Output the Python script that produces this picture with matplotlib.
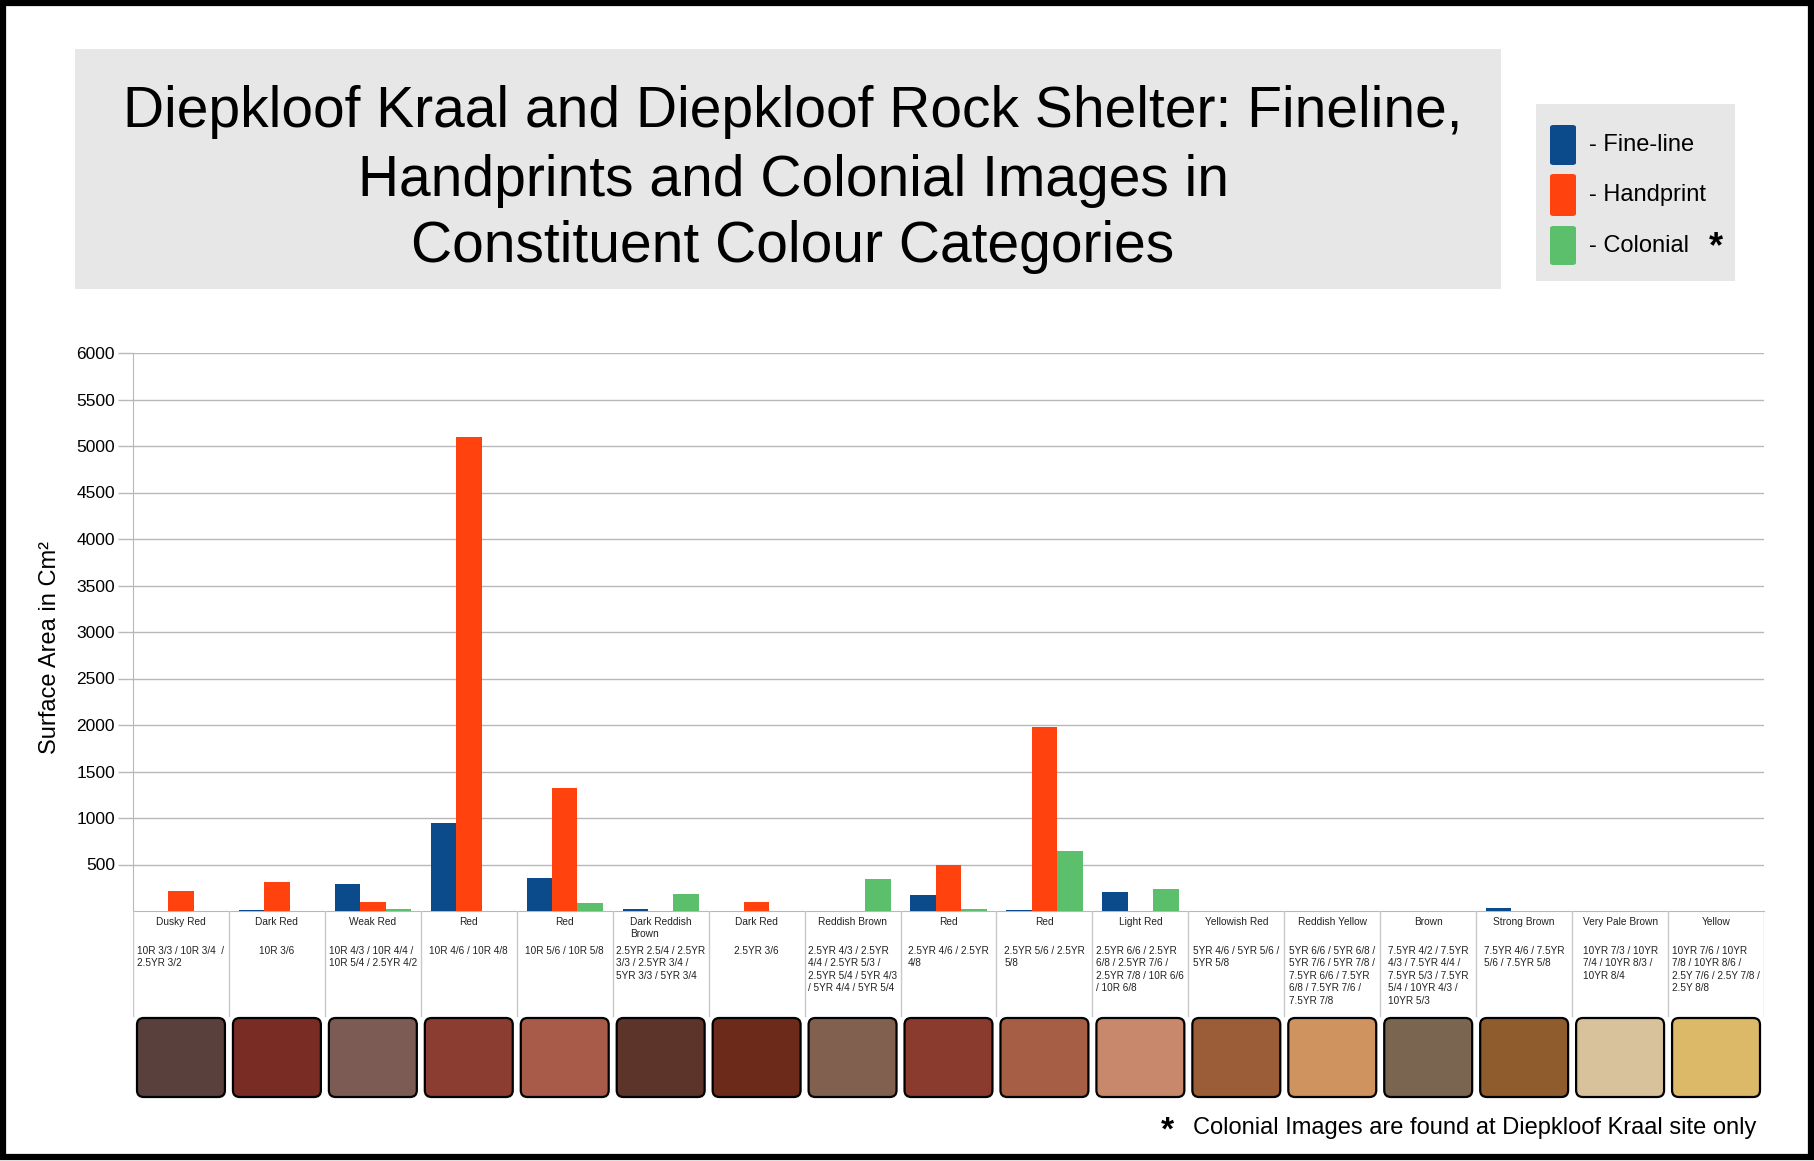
import matplotlib.pyplot as plt
import numpy as np
from matplotlib.patches import Rectangle, FancyBboxPatch

plt.rcParams["font.family"] = ["Liberation Sans", "DejaVu Sans"]

W, H, DPI = 1814, 1161, 100

# --- data ---
categories = [
    "Dusky Red", "Dark Red", "Weak Red", "Red", "Red", "Dark Reddish\nBrown",
    "Dark Red", "Reddish Brown", "Red", "Red", "Light Red", "Yellowish Red",
    "Reddish Yellow", "Brown", "Strong Brown", "Very Pale Brown", "Yellow",
]
munsell_codes = [
    "10R 3/3 / 10R 3/4  /\n2.5YR 3/2",
    "10R 3/6",
    "10R 4/3 / 10R 4/4 /\n10R 5/4 / 2.5YR 4/2",
    "10R 4/6 / 10R 4/8",
    "10R 5/6 / 10R 5/8",
    "2.5YR 2.5/4 / 2.5YR\n3/3 / 2.5YR 3/4 /\n5YR 3/3 / 5YR 3/4",
    "2.5YR 3/6",
    "2.5YR 4/3 / 2.5YR\n4/4 / 2.5YR 5/3 /\n2.5YR 5/4 / 5YR 4/3\n/ 5YR 4/4 / 5YR 5/4",
    "2.5YR 4/6 / 2.5YR\n4/8",
    "2.5YR 5/6 / 2.5YR\n5/8",
    "2.5YR 6/6 / 2.5YR\n6/8 / 2.5YR 7/6 /\n2.5YR 7/8 / 10R 6/6\n/ 10R 6/8",
    "5YR 4/6 / 5YR 5/6 /\n5YR 5/8",
    "5YR 6/6 / 5YR 6/8 /\n5YR 7/6 / 5YR 7/8 /\n7.5YR 6/6 / 7.5YR\n6/8 / 7.5YR 7/6 /\n7.5YR 7/8",
    "7.5YR 4/2 / 7.5YR\n4/3 / 7.5YR 4/4 /\n7.5YR 5/3 / 7.5YR\n5/4 / 10YR 4/3 /\n10YR 5/3",
    "7.5YR 4/6 / 7.5YR\n5/6 / 7.5YR 5/8",
    "10YR 7/3 / 10YR\n7/4 / 10YR 8/3 /\n10YR 8/4",
    "10YR 7/6 / 10YR\n7/8 / 10YR 8/6 /\n2.5Y 7/6 / 2.5Y 7/8 /\n2.5Y 8/8",
]
fine_line = [0, 10, 290, 950, 360, 20, 0, 0, 175, 15, 205, 0, 0, 0, 30, 0, 0]
handprint = [210, 310, 95, 5100, 1320, 0, 100, 0, 500, 1980, 0, 0, 0, 0, 0, 0, 0]
colonial = [0, 0, 25, 0, 85, 180, 0, 340, 20, 645, 240, 0, 0, 0, 0, 0, 0]
swatch_colors = [
    "#5a403c", "#782c24", "#7c5b55", "#8b3d31", "#a85b48", "#5c3429",
    "#6c2a1b", "#81604f", "#8a3b2e", "#a65e45", "#c8886b", "#9a5d38",
    "#cf935f", "#7a6650", "#8f5c2d", "#d8c29c", "#dbb968",
]
yticks = np.arange(500, 6001, 500)

BLUE, ORANGE, GREEN = "#0b4a8b", "#ff420e", "#5cbf6b"
GRID = "#b8b8b8"


def fx(px):
    return px / W


def fy(py):
    return 1 - py / H


fig = plt.figure(figsize=(W / DPI, H / DPI), dpi=DPI)

# --- decorations: frame, title box, legend box ---
fig.add_artist(Rectangle((fx(3), fy(H - 4)), (W - 6) / W, (H - 7) / H,
                         transform=fig.transFigure, fill=False,
                         edgecolor="black", linewidth=4.5))
fig.add_artist(Rectangle((fx(75), fy(289)), (1501 - 75) / W, (289 - 49) / H,
                         transform=fig.transFigure, facecolor="#e7e7e7",
                         edgecolor="none"))
fig.add_artist(Rectangle((fx(1536), fy(281)), (1735 - 1536) / W, (281 - 104) / H,
                         transform=fig.transFigure, facecolor="#e7e7e7",
                         edgecolor="none"))

title_lines = [
    "Diepkloof Kraal and Diepkloof Rock Shelter: Fineline,",
    "Handprints and Colonial Images in",
    "Constituent Colour Categories",
]
for line, ypx in zip(title_lines, [112, 181, 247]):
    fig.text(fx(793), fy(ypx), line, ha="center", va="center", fontsize=41)

# legend
for col, lab, ytop, ybot in [(BLUE, "- Fine-line", 125, 165),
                             (ORANGE, "- Handprint", 174, 216),
                             (GREEN, "- Colonial", 226, 265)]:
    fig.add_artist(FancyBboxPatch((fx(1550), fy(ybot)), 26 / W, (ybot - ytop) / H,
                                  boxstyle="round,pad=0,rounding_size=0.002",
                                  transform=fig.transFigure, facecolor=col,
                                  edgecolor="none"))
    fig.text(fx(1589), fy((ytop + ybot) / 2), lab, ha="left", va="center",
             fontsize=17)
fig.text(fx(1716), fy(248), "*", ha="center", va="center", fontsize=26,
         fontweight="bold")

# --- main bar chart ---
ax = fig.add_axes([fx(133), fy(911), (1764 - 133) / W, (911 - 353) / H])
x = np.arange(len(categories)) + 0.5
bw = 0.265
ax.bar(x - bw, fine_line, bw, color=BLUE, zorder=3)
ax.bar(x, handprint, bw, color=ORANGE, zorder=3)
ax.bar(x + bw, colonial, bw, color=GREEN, zorder=3)

ax.set_xlim(0, len(categories))
ax.set_ylim(0, 6000)
ax.set_xticks([])
ax.set_yticks(yticks)
ax.tick_params(axis="y", length=11, width=1, color=GRID, labelsize=12.5, pad=2)
ax.yaxis.grid(True, color=GRID, linewidth=1, zorder=0)
ax.set_axisbelow(True)
ax.spines[["top", "right"]].set_visible(False)
ax.spines["left"].set_color(GRID)
ax.spines["bottom"].set_color(GRID)

fig.text(fx(50), fy(648), "Surface Area in Cm²", rotation=90, ha="center",
         va="center", fontsize=17)

# --- category label table and colour swatches ---
lab_ax = fig.add_axes([fx(133), fy(1100), (1764 - 133) / W, (1100 - 911) / H])
u = (1764 - 133) / len(categories)  # pixels per category
lab_ax.set_xlim(0, len(categories))
lab_ax.set_ylim(189 / u, 0)
lab_ax.axis("off")

for i in range(len(categories) + 1):
    lab_ax.plot([i, i], [0, 105 / u], color="#c8c8c8", linewidth=1)
for i, (name, code, col) in enumerate(zip(categories, munsell_codes, swatch_colors)):
    lab_ax.text(i + 0.5, 6 / u, name, ha="center", va="top", multialignment="left",
                fontsize=7.3, color="#222222", linespacing=1.3)
    lab_ax.text(i + 0.5, 35 / u, code, ha="center", va="top", multialignment="left",
                fontsize=7.2, color="#222222", linespacing=1.3)
    inset = 4 / u
    lab_ax.add_patch(FancyBboxPatch((i + inset, 107 / u), 1 - 2 * inset, 79 / u,
                                    boxstyle="round,pad=0,rounding_size=0.07",
                                    facecolor=col, edgecolor="black",
                                    linewidth=1.6))

# footnote
fig.text(fx(1756), fy(1128), "Colonial Images are found at Diepkloof Kraal site only",
         ha="right", va="center", fontsize=17)
fig.text(fx(1167), fy(1131), "*", ha="center", va="center", fontsize=24,
         fontweight="bold")

fig.savefig("out.png", dpi=DPI)
